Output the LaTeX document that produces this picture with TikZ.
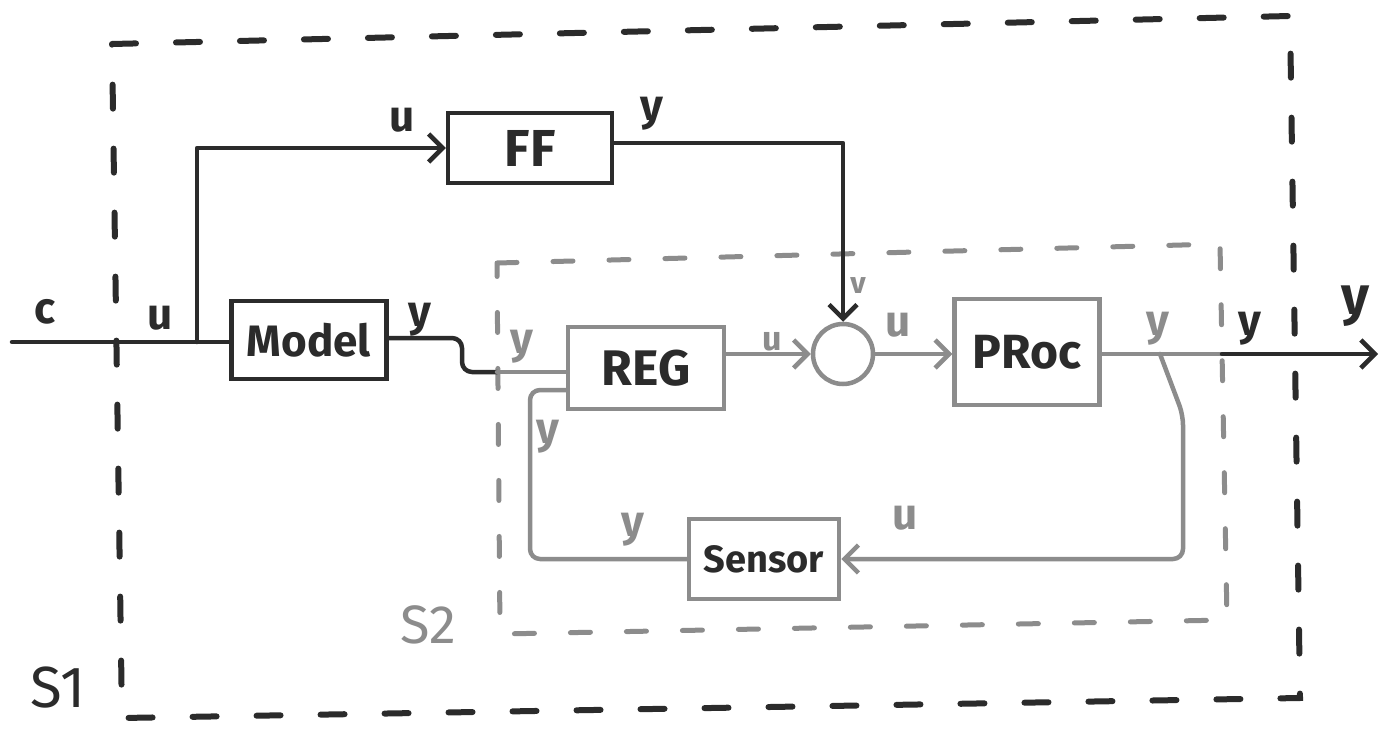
\documentclass[tikz,border=0pt]{standalone}
\usepackage{fontspec}
\setsansfont{Fira Sans}
\usetikzlibrary{arrows.meta}
\definecolor{dk}{HTML}{2B2B2B}
\definecolor{gy}{HTML}{8C8C8C}
\begin{document}
\begin{tikzpicture}[x=1pt,y=-1pt,
  dkline/.style={draw=dk, line width=4.5pt, line cap=round, line join=round},
  gyline/.style={draw=gy, line width=4.5pt, line cap=round, line join=round},
  tip/.style={-{Straight Barb[length=14pt,width=28pt,line width=4.5pt]}},
  dkbox/.style={rectangle, draw=dk, line width=4.5pt, text=dk, inner sep=0pt, font=\sffamily\bfseries\fontsize{44}{48}\selectfont},
  gybox/.style={rectangle, draw=gy, line width=4.5pt, text=dk, inner sep=0pt, font=\sffamily\bfseries\fontsize{44}{48}\selectfont},
  dklab/.style={text=dk, font=\sffamily\bfseries\fontsize{44}{48}\selectfont, inner sep=0pt},
  gylab/.style={text=gy, font=\sffamily\bfseries\fontsize{44}{48}\selectfont, inner sep=0pt},
  outerdash/.style={draw=dk, line width=6pt, line cap=round, dash pattern=on 24pt off 40pt},
  innerdash/.style={draw=gy, line width=5pt, line cap=round, dash pattern=on 20pt off 36pt}]
\useasboundingbox (0,0) rectangle (1383,730);
\fill[white] (0,0) rectangle (1383,730);

% dashed system boundaries
\coordinate (o1) at (112,44);
\coordinate (o2) at (1290,16);
\coordinate (o3) at (1300,698);
\coordinate (o4) at (122,718);
\draw[outerdash] (o1) -- (o2) -- (o3) -- (o4) -- cycle;
\coordinate (i1) at (497,263);
\coordinate (i2) at (1220,244);
\coordinate (i3) at (1227,620);
\coordinate (i4) at (500,634);
\draw[innerdash] (i1) -- (i2) -- (i3) -- (i4) -- cycle;

% blocks
\node[dkbox, minimum width=155pt, minimum height=78pt] (model) at (309,340) {Model};
\node[dkbox, minimum width=164pt, minimum height=70pt, font=\sffamily\bfseries\fontsize{52}{56}\selectfont] (ff) at (530,148) {FF};
\node[gybox, minimum width=156pt, minimum height=82pt, font=\sffamily\bfseries\fontsize{50}{54}\selectfont] (reg) at (646,368) {REG};
\node[gybox, minimum width=145pt, minimum height=106pt, font=\sffamily\bfseries\fontsize{48}{52}\selectfont] (proc) at (1027,352) {PRoc};
\node[gybox, minimum width=150pt, minimum height=80pt, font=\sffamily\bfseries\fontsize{38}{42}\selectfont] (sensor) at (764,559) {Sensor};
\node[circle, draw=gy, line width=4.5pt, minimum size=60pt, inner sep=0pt] (sum) at (843,354) {};

% connectors
\coordinate (in) at (12,342);
\coordinate (br) at (197,342);
\draw[dkline] (in) -- (model.west |- in);
\draw[dkline, tip] (br) |- (ff.west);
\coordinate (mout) at (462,338);
\coordinate (s2in) at (497,372);
\draw[dkline, rounded corners=10pt] (model.east |- mout) -- (mout) |- (s2in);
\draw[gyline] (s2in) -- (s2in -| reg.west);
\draw[dkline, tip] (ff.east |- 0,143) -| (sum.north);
\draw[gyline, tip] (reg.east |- sum) -- (sum.west);
\draw[gyline, tip] (sum.east) -- (proc.west |- sum);
\coordinate (s2out) at (1222,354);
\coordinate (out) at (1378,354);
\draw[gyline] (proc.east |- s2out) -- (s2out);
\draw[dkline, tip] (s2out) -- (out);
\coordinate (fb) at (1160,354);
\coordinate (fbr) at (1183,415);
\draw[gyline, tip, rounded corners=10pt] (fb) -- (fbr) |- (sensor.east);
\coordinate (fbl) at (530,390);
\draw[gyline, rounded corners=10pt] (sensor.west) -| (fbl) -- (fbl -| reg.west);

% labels
\node[dklab] (lc) at (45,312) {c};
\node[dklab] (lu1) at (160,318) {u};
\node[dklab] (lu2) at (402,120) {u};
\node[dklab] (ly1) at (652,114) {y};
\node[dklab] (ly2) at (420,320) {y};
\node[gylab] (ly3) at (522,347) {y};
\node[gylab, font=\sffamily\bfseries\fontsize{34}{38}\selectfont] (lu3) at (772,342) {u};
\node[gylab, font=\sffamily\bfseries\fontsize{30}{34}\selectfont] (lv) at (858,286) {v};
\node[gylab] (lu4) at (898,325) {u};
\node[gylab] (ly4) at (1158,329) {y};
\node[dklab] (ly5) at (1250,329) {y};
\node[dklab, font=\sffamily\bfseries\fontsize{54}{58}\selectfont] (ly6) at (1355,306) {y};
\node[gylab] (ly7) at (548,437) {y};
\node[gylab] (ly8) at (633,530) {y};
\node[gylab] (lu5) at (905,518) {u};
\node[gylab, font=\sffamily\fontsize{54}{58}\selectfont] (ls2) at (428,625) {S2};
\node[dklab, font=\sffamily\fontsize{58}{62}\selectfont] (ls1) at (58,688) {S1};
\end{tikzpicture}
\end{document}
